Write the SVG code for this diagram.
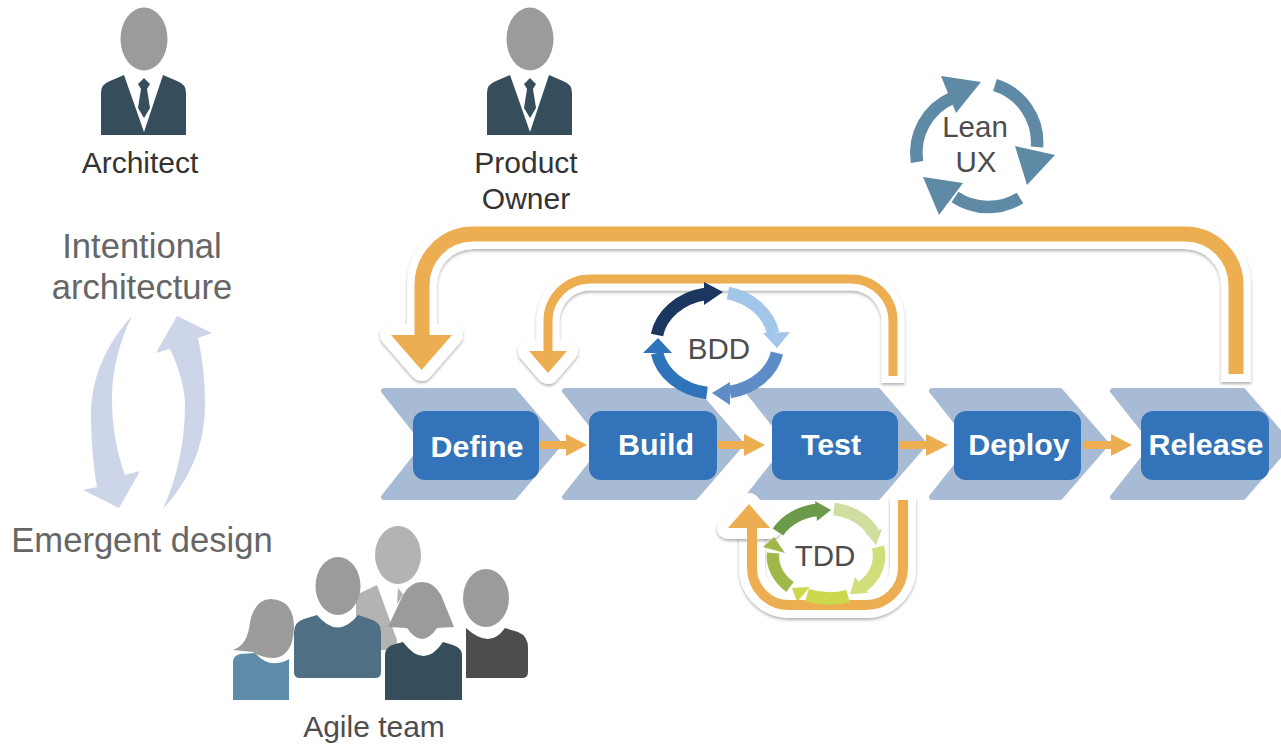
<svg xmlns="http://www.w3.org/2000/svg" width="1281" height="744" viewBox="0 0 1281 744">
<style>
text{font-family:"Liberation Sans",Arial,sans-serif;text-anchor:middle}
.lbl{font-size:30px;fill:#333}
.gry{font-size:34.6px;fill:#666}
.ring{font-size:29.5px;fill:#4d4d4d}
.step{font-size:30.4px;font-weight:bold;fill:#fff}
.chev{fill:#a8bbd4;stroke:#a8bbd4;stroke-width:6;stroke-linejoin:round}
.box{fill:#3273b9}
.halo{fill:none;stroke:#fff;stroke-linejoin:round;filter:url(#sh)}
.halh{fill:#fff;stroke:#fff;stroke-width:22;stroke-linejoin:round;filter:url(#sh)}
.or{fill:none;stroke:#ecae50}
.orf{fill:#ecae50}
.hd{fill:#9b9b9b}
.sk{fill:none;stroke-width:12.500}
</style>
<defs>
<filter id="sh" filterUnits="userSpaceOnUse" x="0" y="0" width="1281" height="744"><feDropShadow dx="0" dy="2" stdDeviation="1.5" flood-color="#000" flood-opacity="0.3"/></filter>
<g id="suit">
<ellipse class="hd" cx="0" cy="39" rx="23.5" ry="31.5"/>
<path d="M-43 135V93Q-43 84-34 81L-20 75L0 132L19 75L33 81Q42 84 42 93V135Z" fill="#364e5b"/>
<path d="M0 78L6 84L3 89L6 108L0 118L-6 108L-3 89L-6 84Z" fill="#364e5b"/>
</g>
</defs>
<rect width="1281" height="744" fill="#fff"/>

<g id="architect"><use href="#suit" x="144"/><text class="lbl" x="140" y="173">Architect</text></g>
<g id="product-owner"><use href="#suit" x="530"/><text class="lbl" x="526" y="173">Product</text><text class="lbl" x="526" y="209">Owner</text></g>

<g id="architecture-cycle">
<text class="gry" x="142" y="258">Intentional</text><text class="gry" x="142" y="299">architecture</text>
<path d="M132 316C105 345 91 380 91 415C91 440 93 465 97 487L83 490L119 508L140 471L125 475C116 450 112 425 112 398C112 370 120 340 132 316Z" fill="#cdd6e8"/>
<path d="M163 509C190 480 205 445 205 405C205 382 203 360 198 338L212 333L177 316L156 353L170 349C180 370 185 390 185 405C185 445 176 480 163 509Z" fill="#cdd6e8"/>
<text class="gry" x="142" y="552">Emergent design</text>
</g>

<g id="steps">
<g id="define"><path class="chev" d="M384 391H514L559 444L514 497H384L426 444Z"/><rect class="box" x="413" y="411" width="126" height="69" rx="12"/><text class="step" x="477" y="457">Define</text></g>
<g id="build"><path class="chev" d="M565 391H695L741 444L695 497H565L607 444Z"/><rect class="box" x="589" y="411" width="128" height="69" rx="12"/><text class="step" x="656" y="455">Build</text></g>
<g id="test"><path class="chev" d="M748 391H878L924 444L878 497H748L790 444Z"/><rect class="box" x="772" y="411" width="126" height="69" rx="12"/><text class="step" x="831" y="455">Test</text></g>
<g id="deploy"><path class="chev" d="M932 391H1060L1106 444L1060 497H932L974 444Z"/><rect class="box" x="954" y="411" width="127" height="69" rx="12"/><text class="step" x="1019" y="455">Deploy</text></g>
<g id="release"><path class="chev" d="M1113 391H1243L1289 444L1243 497H1113L1155 444Z"/><rect class="box" x="1141" y="411" width="128" height="69" rx="12"/><text class="step" x="1206" y="455">Release</text></g>
</g>

<g id="connectors">
<g class="orf">
<path d="M539 441H566V434L587 445L566 456V449H539Z"/>
<path d="M717 441H744V434L765 445L744 456V449H717Z"/>
<path d="M899 441H926V434L948 445L926 456V449H899Z"/>
<path d="M1083 441H1111V434L1132 445L1111 456V449H1083Z"/>
</g>
<path class="halo" stroke-width="30" d="M1236 382V285A51 51 0 0 0 1185 234H473A51 51 0 0 0 422 285V334"/>
<path class="halh" d="M391 335H452L421.500 370Z"/>
<path class="or" stroke-width="15" d="M1236 374V285A51 51 0 0 0 1185 234H473A51 51 0 0 0 422 285V340"/>
<path class="orf" d="M391 335H452L421.500 370Z"/>
<path class="halo" stroke-width="23" d="M893 383V321A42 42 0 0 0 851 279H590A42 42 0 0 0 548 321V351"/>
<path class="halh" d="M529 351H567L548 373Z"/>
<path class="or" stroke-width="9" d="M893 376V321A42 42 0 0 0 851 279H590A42 42 0 0 0 548 321V355"/>
<path class="orf" d="M529 351H567L548 373Z"/>
<path class="halo" stroke-width="26" d="M903 497V568A37 37 0 0 1 866 605H789A37 37 0 0 1 752 568V528"/>
<path class="halh" d="M728 528H770L749 504Z"/>
<path class="or" stroke-width="10" d="M903 500V568A37 37 0 0 1 866 605H789A37 37 0 0 1 752 568V524"/>
<path class="orf" d="M728 528H770L749 504Z"/>
</g>

<g id="bdd">
<path class="sk" stroke="#1b365f" d="M657 335A60 50 0 0 1 705 294"/><path fill="#1b365f" d="M723 292L704 282V305Z"/>
<path class="sk" stroke="#a2c6ea" d="M728 293A60 50 0 0 1 773 333"/><path fill="#a2c6ea" d="M777 348L763 333L790 332Z"/>
<path class="sk" stroke="#5d8cc6" d="M777 353A60 50 0 0 1 730 392"/><path fill="#5d8cc6" d="M712 393L730 382V405Z"/>
<path class="sk" stroke="#2f74ba" d="M707 393A60 50 0 0 1 657 353"/><path fill="#2f74ba" d="M658 338L643 353H672Z"/>
<text class="ring" x="719" y="359">BDD</text>
</g>

<g id="tdd">
<path class="sk" stroke="#6a9a4a" d="M778 532A52 42 0 0 1 817 510"/><path fill="#6a9a4a" d="M831 510L815 501L817 521Z"/>
<path class="sk" stroke="#cfdfa0" d="M834 509A52 42 0 0 1 873 532"/><path fill="#cfdfa0" d="M876 545L865 532L882 529Z"/>
<path class="sk" stroke="#d2de7c" d="M878 547A52 42 0 0 1 862 587"/><path fill="#d2de7c" d="M850 594L855 577L868 593Z"/>
<path class="sk" stroke="#ccd94e" d="M848 596C834 600 820 599 807 595"/><path fill="#ccd94e" d="M792 588L810 587L797 602Z"/>
<path class="sk" stroke="#a0b84a" d="M790 587A52 42 0 0 1 773 553"/><path fill="#a0b84a" d="M774 537L763 547L785 553Z"/>
<text class="ring" x="825" y="566">TDD</text>
</g>

<g id="lean-ux">
<path class="sk" stroke="#5f8aa6" d="M917 162A60 60 0 0 1 952 98"/><path fill="#5f8aa6" d="M981 82L941 76L956 113Z"/>
<path class="sk" stroke="#5f8aa6" d="M995 85A60 60 0 0 1 1037 147"/><path fill="#5f8aa6" d="M1055 155L1015 146L1027 185Z"/>
<path class="sk" stroke="#5f8aa6" d="M1020 198A60 60 0 0 1 955 197"/><path fill="#5f8aa6" d="M923 177L963 183L939 215Z"/>
<text class="ring" x="975" y="137">Lean</text><text class="ring" x="976" y="172">UX</text>
</g>

<g id="agile-team">
<ellipse cx="398" cy="555" rx="23" ry="29" fill="#b3b3b3"/>
<path d="M356 595L377 585L397 640V650H356Z" fill="#b3b3b3"/>
<path d="M398 588L403 594L400 600L397 604Z" fill="#b3b3b3"/>
<path d="M233 700V662Q233 656 240 654L255 653Q270 670 289 659V700Z" fill="#5f8ca8"/>
<path d="M233 650Q248 645 250 622Q255 599 271 599Q294 600 294 628Q293 655 275 658Q262 658 253 652Q243 651 233 650Z" fill="#9b9b9b"/>
<path d="M294 672V632Q294 622 304 619L317 615Q338 640 358 615L370 619Q381 622 381 632V672Q381 678 375 678H300Q294 678 294 672Z" fill="#4f7084"/>
<ellipse class="hd" cx="338" cy="586" rx="22.500" ry="29"/>
<path d="M466 628Q490 650 505 628L518 632Q528 636 528 648V672Q528 678 522 678H466Z" fill="#4d4d4d"/>
<ellipse class="hd" cx="486" cy="598" rx="23" ry="29"/>
<path d="M385 700V655Q385 648 392 645L403 642Q424 670 443 642L453 645Q462 648 462 655V700Z" fill="#364e5b"/>
<path d="M388 627L403 595Q410 582 422 582Q434 582 441 595L454 627L437 628Q422 650 407 628Z" fill="#9b9b9b"/>
<text class="lbl" x="374" y="737" style="fill:#4d4d4d">Agile team</text>
</g>
</svg>
